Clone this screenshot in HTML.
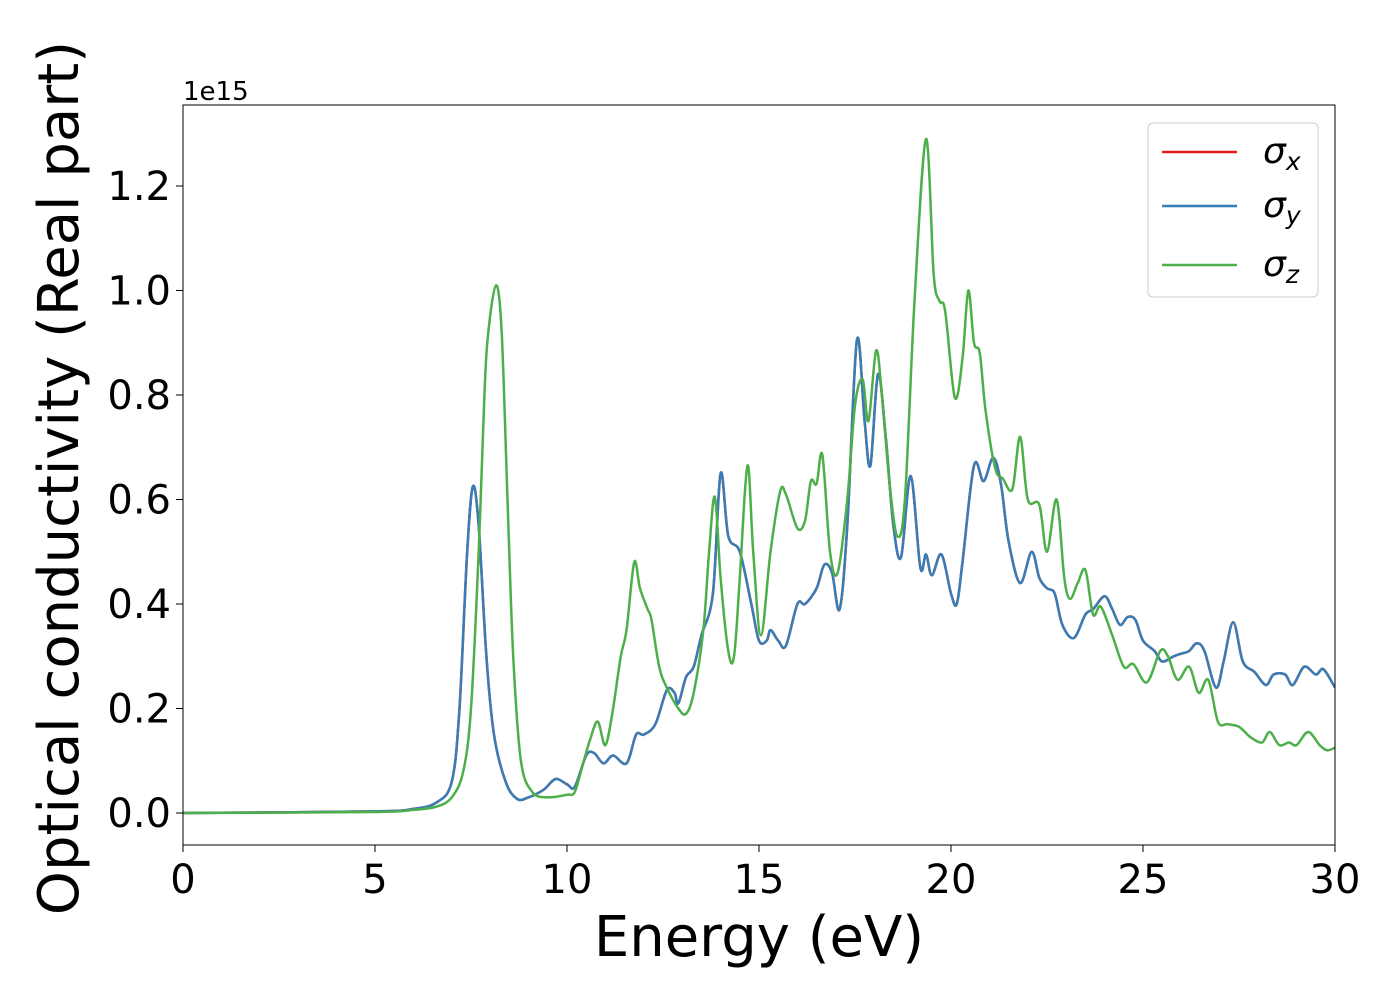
<!DOCTYPE html>
<html><head><meta charset="utf-8"><style>
body{margin:0;background:#fff}
svg{font-family:"DejaVu Sans","Liberation Sans",sans-serif}
</style></head><body>
<svg id="chart" width="1400" height="1000">
<rect x="0" y="0" width="1400" height="1000" fill="#fff"/>
<g id="plot"></g>
<g id="axes"></g>
</svg>
<script>
const xyE=[0,5,6,6.6,7.0,7.2,7.4,7.55,7.7,7.9,8.1,8.4,8.7,9.0,9.4,9.7,10.0,10.2,10.5,10.7,10.95,11.2,11.55,11.8,12.0,12.3,12.6,12.8,12.9,13.1,13.3,13.5,13.8,14.0,14.2,14.5,14.8,15.0,15.2,15.3,15.5,15.7,16.0,16.2,16.5,16.7,16.9,17.1,17.3,17.55,17.75,17.9,18.1,18.3,18.5,18.7,18.95,19.2,19.35,19.5,19.75,20.0,20.15,20.3,20.6,20.85,21.1,21.3,21.5,21.8,22.1,22.3,22.5,22.7,22.9,23.2,23.5,23.7,24.0,24.2,24.4,24.6,24.8,25.0,25.3,25.5,25.8,26.0,26.2,26.4,26.6,26.9,27.1,27.35,27.6,27.9,28.2,28.4,28.7,28.9,29.2,29.5,29.7,30];
const xyV=[0,0.003,0.008,0.02,0.06,0.2,0.5,0.625,0.55,0.3,0.15,0.06,0.027,0.03,0.045,0.065,0.055,0.05,0.11,0.115,0.095,0.11,0.095,0.15,0.15,0.17,0.235,0.23,0.21,0.26,0.28,0.34,0.42,0.65,0.53,0.5,0.4,0.33,0.33,0.35,0.33,0.32,0.4,0.4,0.43,0.475,0.46,0.39,0.55,0.905,0.75,0.665,0.84,0.72,0.55,0.49,0.645,0.47,0.495,0.455,0.495,0.42,0.4,0.48,0.665,0.635,0.68,0.63,0.52,0.44,0.5,0.45,0.43,0.42,0.36,0.335,0.38,0.39,0.415,0.39,0.36,0.375,0.37,0.33,0.31,0.29,0.3,0.305,0.31,0.325,0.31,0.24,0.29,0.365,0.29,0.27,0.245,0.265,0.265,0.245,0.28,0.265,0.275,0.24];
const zE=[0,5,6,6.6,7.0,7.3,7.5,7.7,7.85,7.95,8.15,8.3,8.45,8.6,8.8,9.1,9.5,10.0,10.2,10.4,10.6,10.8,11.0,11.2,11.4,11.55,11.75,11.9,12.1,12.2,12.4,12.6,12.9,13.1,13.3,13.55,13.7,13.85,14.0,14.2,14.35,14.5,14.7,14.85,15.05,15.3,15.55,15.7,16.0,16.2,16.35,16.5,16.65,16.85,17.05,17.3,17.5,17.7,17.85,18.05,18.2,18.4,18.6,18.8,19.05,19.35,19.55,19.7,19.85,20.1,20.3,20.45,20.6,20.75,20.9,21.15,21.35,21.6,21.8,22.0,22.3,22.5,22.75,22.95,23.1,23.3,23.5,23.7,23.9,24.2,24.5,24.75,25.1,25.45,25.65,25.9,26.2,26.45,26.7,26.95,27.2,27.5,27.8,28.1,28.3,28.55,28.8,29.0,29.3,29.6,29.8,30];
const zV=[0,0.002,0.006,0.012,0.03,0.08,0.2,0.5,0.8,0.92,1.01,0.92,0.6,0.3,0.1,0.04,0.03,0.035,0.04,0.09,0.14,0.175,0.13,0.2,0.3,0.35,0.48,0.43,0.39,0.37,0.28,0.24,0.2,0.19,0.23,0.35,0.5,0.605,0.45,0.31,0.3,0.45,0.665,0.5,0.34,0.5,0.615,0.61,0.545,0.56,0.635,0.63,0.685,0.5,0.46,0.6,0.78,0.83,0.75,0.885,0.8,0.63,0.53,0.6,0.98,1.29,1.03,0.98,0.96,0.795,0.87,1.0,0.9,0.88,0.77,0.66,0.64,0.62,0.72,0.6,0.59,0.5,0.6,0.45,0.41,0.44,0.465,0.38,0.395,0.34,0.28,0.285,0.25,0.31,0.3,0.255,0.28,0.23,0.255,0.175,0.17,0.165,0.145,0.135,0.155,0.13,0.135,0.13,0.155,0.13,0.12,0.125];
const xTicks=[0,5,10,15,20,25,30];
const yTicks=[0,0.2,0.4,0.6,0.8,1.0,1.2];
const yTickLabels=["0.0","0.2","0.4","0.6","0.8","1.0","1.2"];

const L=183,R=1335,T=105,B=845,Y0=813,YS=522.5;
const xs=e=>L+(e-0)*(R-L)/30;
const ys=v=>Y0-v*YS;
const NS='http://www.w3.org/2000/svg';
const plot=document.getElementById('plot'),axes=document.getElementById('axes');
function mk(tag,at,parent){const el=document.createElementNS(NS,tag);for(const k in at)el.setAttribute(k,at[k]);parent.appendChild(el);return el;}
function pathFor(E,V){
  const p=E.map((e,i)=>[xs(e),ys(V[i])]);
  let d='M'+p[0][0].toFixed(1)+','+p[0][1].toFixed(1);
  for(let i=0;i<p.length-1;i++){
    const p0=p[Math.max(0,i-1)],p1=p[i],p2=p[i+1],p3=p[Math.min(p.length-1,i+2)];
    const c1=[p1[0]+(p2[0]-p0[0])/6,p1[1]+(p2[1]-p0[1])/6];
    const c2=[p2[0]-(p3[0]-p1[0])/6,p2[1]-(p3[1]-p1[1])/6];
    d+='C'+c1[0].toFixed(1)+','+c1[1].toFixed(1)+' '+c2[0].toFixed(1)+','+c2[1].toFixed(1)+' '+p2[0].toFixed(1)+','+p2[1].toFixed(1);
  }
  return d;
}
mk('clipPath',{id:'clip'},plot).appendChild(Object.assign(document.createElementNS(NS,'rect'),{}));
const cr=plot.querySelector('clipPath rect');cr.setAttribute('x',L);cr.setAttribute('y',T);cr.setAttribute('width',R-L);cr.setAttribute('height',B-T);
const g=mk('g',{'clip-path':'url(#clip)'},plot);
let el=mk('path',{d:pathFor(xyE,xyV),fill:'none',stroke:'#e41a1c','stroke-width':2.5},g);


el=mk('path',{d:pathFor(xyE,xyV),fill:'none',stroke:'#377eb8','stroke-width':2.5},g);


el=mk('path',{d:pathFor(zE,zV),fill:'none',stroke:'#4daf4a','stroke-width':2.5},g);



el=mk('rect',{x:L,y:T,width:R-L,height:B-T,fill:'none',stroke:'#000','stroke-width':1},axes);


xTicks.forEach(t=>{
  const x=xs(t);
  el=mk('line',{x1:x,x2:x,y1:B,y2:B+7,stroke:'#000','stroke-width':1},axes);
  
  
  el=mk('text',{x:x,y:B+48,'text-anchor':'middle','font-size':40},axes);el.textContent=t;
  
  
});
yTicks.forEach((t,i)=>{
  const y=ys(t);
  el=mk('line',{x1:L-7,x2:L,y1:y,y2:y,stroke:'#000','stroke-width':1},axes);
  
  
  el=mk('text',{x:L-12,y:y+14,'text-anchor':'end','font-size':40},axes);el.textContent=yTickLabels[i];
  
  
});
el=mk('text',{x:L,y:100,'font-size':26},axes);el.textContent='1e15';


el=mk('text',{x:759,y:956,'text-anchor':'middle','font-size':56},axes);el.textContent='Energy (eV)';


el=mk('text',{x:0,y:0,'text-anchor':'middle','font-size':56,transform:'translate(78,478) rotate(-90)'},axes);el.textContent='Optical conductivity (Real part)';



const leg=mk('g',{},axes);


mk('rect',{x:1148,y:123,width:170,height:174,rx:5,fill:'#fff','fill-opacity':0.8,stroke:'#ccc','stroke-width':1},leg);
const legC=['#e41a1c','#377eb8','#4daf4a'],legS=['x','y','z'],legY=[152,206,265];
legC.forEach((c,i)=>{
  el=mk('line',{x1:1162,x2:1237,y1:legY[i],y2:legY[i],stroke:c,'stroke-width':2.5},leg);
  
  
  el=mk('text',{x:1263,y:legY[i]+11,'font-size':36,'font-style':'italic'},leg);
  
  
  const a=document.createElementNS(NS,'tspan');a.textContent='σ';el.appendChild(a);
  const b=document.createElementNS(NS,'tspan');b.setAttribute('font-size','25');b.setAttribute('dy','7');b.textContent=legS[i];el.appendChild(b);
});
</script>
</body></html>
